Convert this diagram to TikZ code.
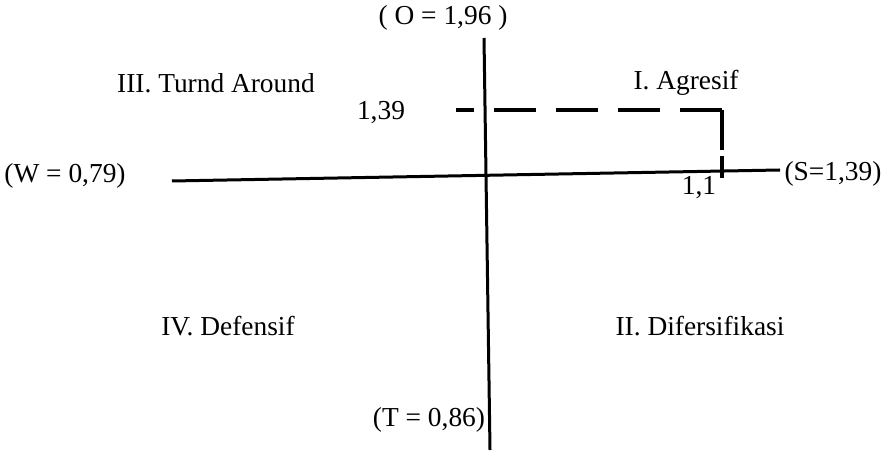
\documentclass[tikz,border=0pt]{standalone}
\usepackage{fontspec}
\setmainfont{Liberation Serif}
\usepackage{tikz}
\usetikzlibrary{positioning}

\begin{document}
\begin{tikzpicture}[x=0.5pt,y=-0.5pt,font=\fontsize{13.7}{16}\selectfont,
    axis/.style={line width=1.5pt},
    guide/.style={line width=2pt,dash pattern=on 21pt off 10pt}]
        \useasboundingbox (0,0) rectangle (887,458);
        % axes
        \coordinate (otop) at (484,38);
        \coordinate (tbot) at (490,450);
        \coordinate (wend) at (172,181);
        \coordinate (send) at (780,170);
        \draw[axis](otop)--(tbot);
        \draw[axis](wend)--(send);
        % position 1,1 ; 1,39
        \coordinate (ystart) at (456,110.5);
        \coordinate (corner) at (722,110.5);
        \coordinate (xfoot) at (722,178);
        \draw[guide](corner)--(ystart);
        \draw[guide,dash pattern=on 20pt off 3pt](corner)--(xfoot);
        \node (o) at (443,18){( O = 1,96 )};
        \node (t) at (429,420){(T = 0,86)};
        \node (w) at (65,176){(W = 0,79)};
        \node (s) at (833,174){(S=1,39)};
        \node (yval) at (381,113){1,39};
        \node (xval) at (699,188){1,1};
        % quadrants
        \node (q3) at (216,83){III. Turnd Around};
        \node (q1) at (686,83){I. Agresif};
        \node (q4) at (228,326){IV. Defensif};
        \node (q2) at (700,326){II. Difersifikasi};
      \end{tikzpicture}
\end{document}
